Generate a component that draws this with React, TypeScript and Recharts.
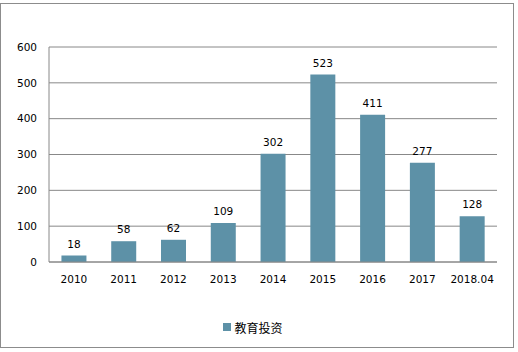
import { BarChart, Bar, XAxis, YAxis, CartesianGrid, Legend, LabelList } from "recharts";

const categories = ["2010", "2011", "2012", "2013", "2014", "2015", "2016", "2017", "2018.04"];
const investment = [18, 58, 62, 109, 302, 523, 411, 277, 128];
const yTicks = [0, 100, 200, 300, 400, 500, 600];
const seriesName = "教育投资";

const barColor = "#5D91A7";
const gridColor = "#888888";
const font = "'DejaVu Sans', Verdana, sans-serif";

const data = categories.map((year, i) => ({ year, value: investment[i] }));

function LegendBox() {
  return (
    <div
      style={{
        height: 30,
        display: "flex",
        alignItems: "center",
        justifyContent: "center",
        fontFamily: "'Noto Sans CJK SC', sans-serif",
        fontSize: 12,
        color: "#000",
      }}
    >
      <span style={{ width: 8, height: 8, background: barColor, marginRight: 3, display: "inline-block" }} />
      <span>{seriesName}</span>
    </div>
  );
}

export default function App() {
  return (
    <div style={{ position: "absolute", left: 0, top: 0, width: 518, height: 352, background: "#fff" }}>
      <div
        style={{
          position: "absolute",
          left: 0,
          top: 3,
          width: 514,
          height: 345,
          border: "1px solid #8c8c8c",
          boxSizing: "border-box",
        }}
      />
      <BarChart
        width={518}
        height={352}
        data={data}
        margin={{ top: 47, right: 21, left: 9, bottom: 10 }}
        barCategoryGap="25%"
      >
        <CartesianGrid vertical={false} stroke={gridColor} />
        <XAxis
          dataKey="year"
          height={50}
          tickLine={false}
          tickSize={0}
          tickMargin={14}
          axisLine={{ stroke: gridColor }}
          tick={{ fill: "#000", fontSize: 10.5, fontFamily: font }}
        />
        <YAxis
          width={40}
          domain={[0, 600]}
          ticks={yTicks}
          tickLine={false}
          tickSize={0}
          tickMargin={12}
          axisLine={{ stroke: gridColor }}
          tick={{ fill: "#000", fontSize: 10.5, fontFamily: font }}
        />
        <Legend verticalAlign="bottom" height={30} content={() => <LegendBox />} />
        <Bar dataKey="value" name={seriesName} fill={barColor} isAnimationActive={false}>
          <LabelList dataKey="value" position="top" offset={8} fill="#000" fontSize={10.5} fontFamily={font} />
        </Bar>
      </BarChart>
    </div>
  );
}
